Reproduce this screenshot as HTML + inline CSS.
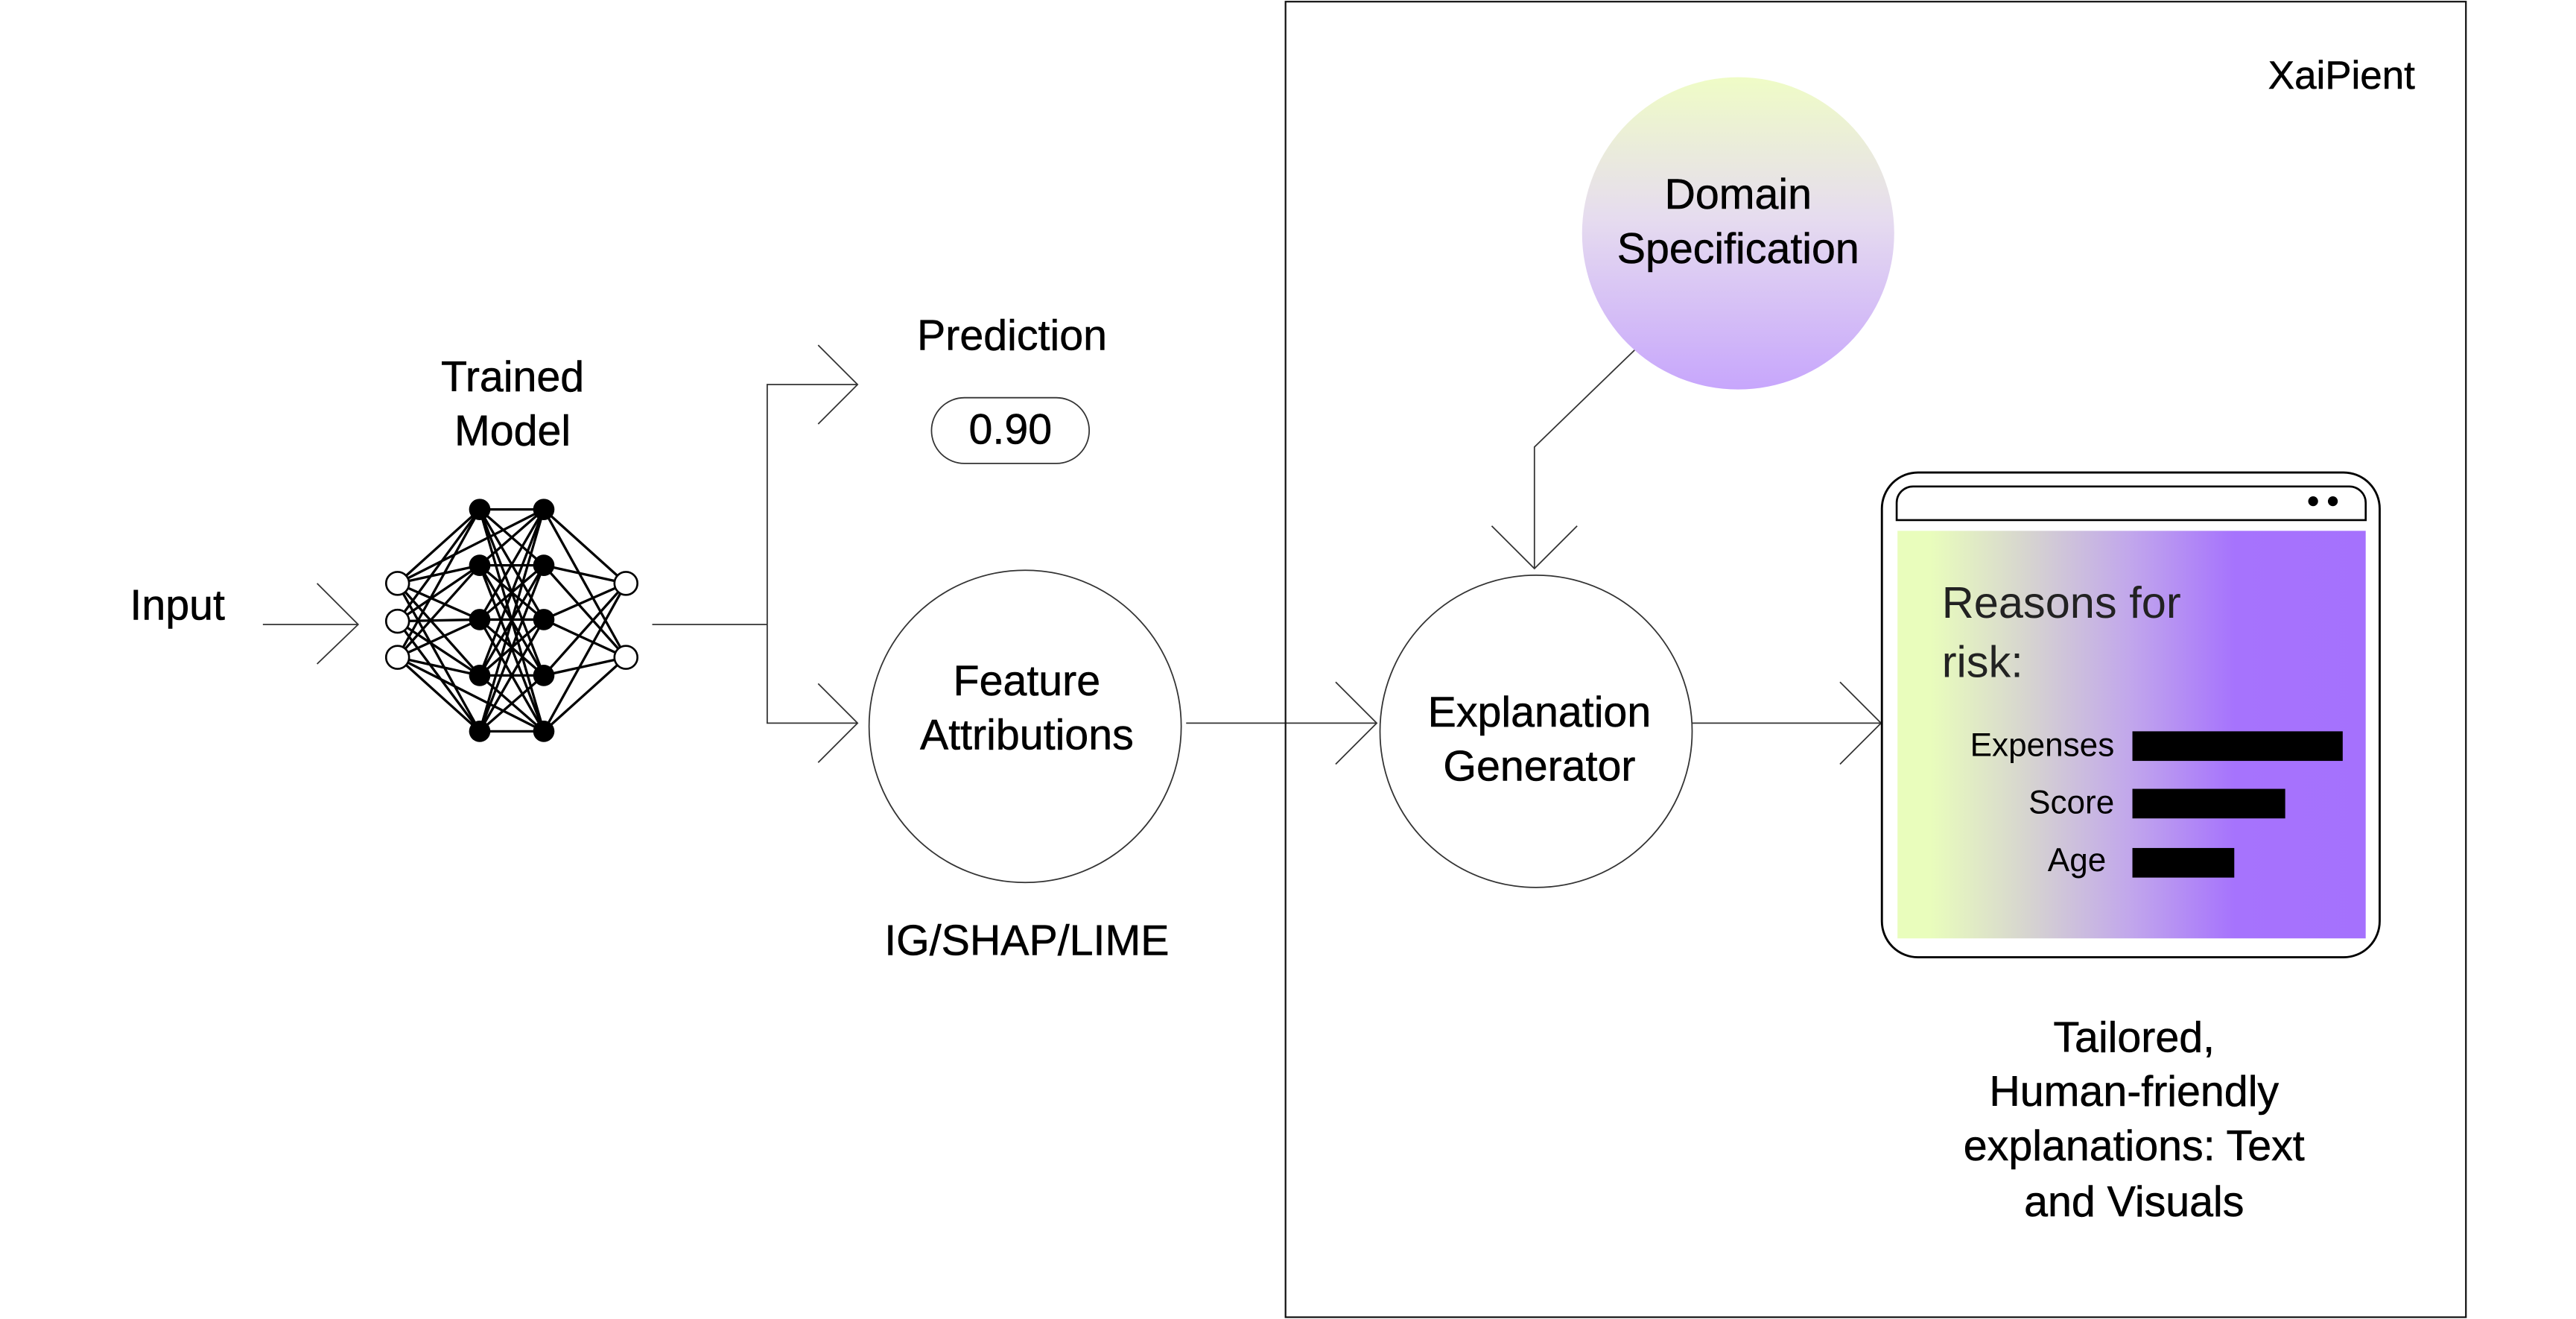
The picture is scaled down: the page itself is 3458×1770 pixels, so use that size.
<!DOCTYPE html>
<html><head><meta charset="utf-8"><style>
html,body{margin:0;padding:0;background:#fff;}
svg{display:block;}
text{font-family:"Liberation Sans",sans-serif;fill:#000;}
</style></head><body>
<svg width="3458" height="1770" viewBox="0 0 1568 802.6" xmlns="http://www.w3.org/2000/svg">
<defs>
<linearGradient id="dom" x1="0" y1="0" x2="0" y2="1">
<stop offset="0" stop-color="#effcc6"/><stop offset="0.45" stop-color="#e6dcef"/><stop offset="1" stop-color="#c7a6fc"/>
</linearGradient>
<linearGradient id="scr" x1="0" y1="0" x2="1" y2="0">
<stop offset="0" stop-color="#e9fdbc"/><stop offset="0.07" stop-color="#e9fdbc"/><stop offset="0.28" stop-color="#d6d4d0"/><stop offset="0.5" stop-color="#c1a6ec"/><stop offset="0.72" stop-color="#a673fd"/><stop offset="1" stop-color="#a571fd"/>
</linearGradient>
</defs>
<g fill="none" stroke="#333" stroke-width="0.8">
<line x1="160" y1="380" x2="218" y2="380"/><polyline points="193,355 218,380 193,404"/>
<polyline points="397,380 467,380"/>
<polyline points="522,234 467,234 467,440 522,440"/>
<polyline points="498,210 522,234 498,258"/>
<polyline points="498,416 522,440 498,464"/>
<line x1="722" y1="440" x2="838" y2="440"/><polyline points="813,415 838,440 813,465"/>
<line x1="1030" y1="440" x2="1145" y2="440"/><polyline points="1120,415 1145,440 1120,465"/>
<polyline points="995,213 934,272 934,346"/><polyline points="908,320 934,346 960,320"/>
<rect x="782.5" y="1" width="718.5" height="800.5" stroke="#111" stroke-width="1"/>
<circle cx="624" cy="442" r="95"/>
<circle cx="935" cy="445" r="95"/>
<rect x="567" y="242" width="96" height="40" rx="20"/>
</g>
<circle cx="1058" cy="142" r="95" fill="url(#dom)"/>
<g stroke="#000" stroke-width="1.5">
<line x1="242" y1="355" x2="292" y2="310"/><line x1="242" y1="355" x2="292" y2="344"/><line x1="242" y1="355" x2="292" y2="377"/><line x1="242" y1="355" x2="292" y2="411"/><line x1="242" y1="355" x2="292" y2="445"/>
<line x1="242" y1="378" x2="292" y2="310"/><line x1="242" y1="378" x2="292" y2="344"/><line x1="242" y1="378" x2="292" y2="377"/><line x1="242" y1="378" x2="292" y2="411"/><line x1="242" y1="378" x2="292" y2="445"/>
<line x1="242" y1="400" x2="292" y2="310"/><line x1="242" y1="400" x2="292" y2="344"/><line x1="242" y1="400" x2="292" y2="377"/><line x1="242" y1="400" x2="292" y2="411"/><line x1="242" y1="400" x2="292" y2="445"/>
<line x1="242" y1="355" x2="331" y2="310"/><line x1="242" y1="400" x2="331" y2="445"/>
<line x1="292" y1="310" x2="331" y2="310"/><line x1="292" y1="310" x2="331" y2="344"/><line x1="292" y1="310" x2="331" y2="377"/><line x1="292" y1="310" x2="331" y2="411"/><line x1="292" y1="310" x2="331" y2="445"/>
<line x1="292" y1="344" x2="331" y2="310"/><line x1="292" y1="344" x2="331" y2="344"/><line x1="292" y1="344" x2="331" y2="377"/><line x1="292" y1="344" x2="331" y2="411"/><line x1="292" y1="344" x2="331" y2="445"/>
<line x1="292" y1="377" x2="331" y2="310"/><line x1="292" y1="377" x2="331" y2="344"/><line x1="292" y1="377" x2="331" y2="377"/><line x1="292" y1="377" x2="331" y2="411"/><line x1="292" y1="377" x2="331" y2="445"/>
<line x1="292" y1="411" x2="331" y2="310"/><line x1="292" y1="411" x2="331" y2="344"/><line x1="292" y1="411" x2="331" y2="377"/><line x1="292" y1="411" x2="331" y2="411"/><line x1="292" y1="411" x2="331" y2="445"/>
<line x1="292" y1="445" x2="331" y2="310"/><line x1="292" y1="445" x2="331" y2="344"/><line x1="292" y1="445" x2="331" y2="377"/><line x1="292" y1="445" x2="331" y2="411"/><line x1="292" y1="445" x2="331" y2="445"/>
<line x1="331" y1="310" x2="381" y2="355"/><line x1="331" y1="344" x2="381" y2="355"/><line x1="331" y1="377" x2="381" y2="355"/><line x1="331" y1="411" x2="381" y2="355"/><line x1="331" y1="445" x2="381" y2="355"/>
<line x1="331" y1="310" x2="381" y2="400"/><line x1="331" y1="344" x2="381" y2="400"/><line x1="331" y1="377" x2="381" y2="400"/><line x1="331" y1="411" x2="381" y2="400"/><line x1="331" y1="445" x2="381" y2="400"/>
</g>
<g fill="#000">
<circle cx="292" cy="310" r="6.5"/><circle cx="292" cy="344" r="6.5"/><circle cx="292" cy="377" r="6.5"/><circle cx="292" cy="411" r="6.5"/><circle cx="292" cy="445" r="6.5"/>
<circle cx="331" cy="310" r="6.5"/><circle cx="331" cy="344" r="6.5"/><circle cx="331" cy="377" r="6.5"/><circle cx="331" cy="411" r="6.5"/><circle cx="331" cy="445" r="6.5"/>
</g>
<g fill="#fff" stroke="#000" stroke-width="1.2">
<circle cx="242" cy="355" r="7"/><circle cx="242" cy="378" r="7"/><circle cx="242" cy="400" r="7"/>
<circle cx="381" cy="355" r="7"/><circle cx="381" cy="400" r="7"/>
</g>
<rect x="1145.5" y="287.5" width="303" height="295" rx="22" fill="#fff" stroke="#000" stroke-width="1.3"/>
<path d="M1154.5 316.5 V306 a10 10 0 0 1 10 -10 H1430 a10 10 0 0 1 10 10 V316.5 Z" fill="#fff" stroke="#000" stroke-width="1.2"/>
<circle cx="1408" cy="305" r="3" fill="#000"/><circle cx="1420" cy="305" r="3" fill="#000"/>
<rect x="1155" y="323" width="285" height="248" fill="url(#scr)"/>
<rect x="1298" y="445" width="128" height="18" fill="#000"/>
<rect x="1298" y="480" width="93" height="18" fill="#000"/>
<rect x="1298" y="516" width="62" height="18" fill="#000"/>
<g font-size="26" text-anchor="middle" stroke="#000" stroke-width="0.25">
<text x="108" y="377">Input</text>
<text x="312" y="238">Trained</text><text x="312" y="271">Model</text>
<text x="616" y="213">Prediction</text>
<text x="615" y="270">0.90</text>
<text x="625" y="423">Feature</text><text x="625" y="456">Attributions</text>
<text x="625" y="581">IG/SHAP/LIME</text>
<text x="937" y="442">Explanation</text><text x="937" y="475">Generator</text>
<text x="1058" y="127">Domain</text><text x="1058" y="160">Specification</text>
<text x="1470" y="54" text-anchor="end" font-size="24">XaiPient</text>
<text x="1299" y="640">Tailored,</text><text x="1299" y="673">Human-friendly</text><text x="1299" y="706">explanations: Text</text><text x="1299" y="740">and Visuals</text>
</g>
<text x="1182" y="376" font-size="27" style="fill:#222">Reasons for</text>
<text x="1182" y="412" font-size="27" style="fill:#222">risk:</text>
<g font-size="20" text-anchor="end">
<text x="1287" y="460">Expenses</text><text x="1287" y="495">Score</text><text x="1282" y="530">Age</text>
</g>
</svg>
</body></html>
